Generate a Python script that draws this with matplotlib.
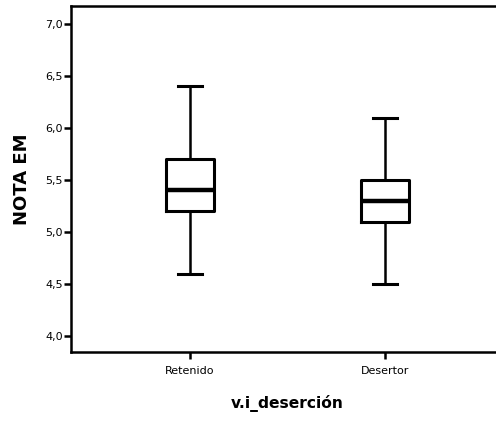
import matplotlib
matplotlib.use("Agg")
import matplotlib.pyplot as plt

plt.rcParams['font.family'] = ['DejaVu Sans']

categories = ['Retenido', 'Desertor']
whislo = [4.6, 4.5]
q1 = [5.2, 5.1]
med = [5.4, 5.3]
q3 = [5.7, 5.5]
whishi = [6.4, 6.1]
yticks = [4.0, 4.5, 5.0, 5.5, 6.0, 6.5, 7.0]
ytick_labels = ['4,0', '4,5', '5,0', '5,5', '6,0', '6,5', '7,0']

stats = []
for i, c in enumerate(categories):
    stats.append({'label': c, 'whislo': whislo[i], 'q1': q1[i], 'med': med[i],
                  'q3': q3[i], 'whishi': whishi[i], 'fliers': []})

fig = plt.figure(figsize=(4.96, 4.21), dpi=100)
ax = fig.add_axes([71/496, 1-352/421, (504-71)/496, (352-6)/421])

ax.bxp(stats, positions=[1, 2], widths=0.25, showfliers=False,
       boxprops=dict(color='black', linewidth=2.2),
       medianprops=dict(color='black', linewidth=3.2),
       whiskerprops=dict(color='black', linewidth=1.8),
       capprops=dict(color='black', linewidth=2.2),
       capwidths=0.125)

ax.set_xlim(0.39, 2.61)
ax.set_ylim(3.846, 7.173)
ax.set_yticks(yticks)
ax.set_yticklabels(ytick_labels, fontsize=8)
ax.set_xticks([1, 2])
ax.set_xticklabels(categories, fontsize=8)
for s in ax.spines.values():
    s.set_linewidth(1.8)
ax.tick_params(axis='y', width=1.8, length=5, pad=1)
ax.tick_params(axis='x', width=1.8, length=5, pad=5)
ax.set_ylabel('NOTA EM', fontsize=13, fontweight='bold', labelpad=10)
ax.set_xlabel('v.i_deserción', fontsize=11.2, fontweight='bold', labelpad=14)

fig.savefig('out.png', dpi=100)
